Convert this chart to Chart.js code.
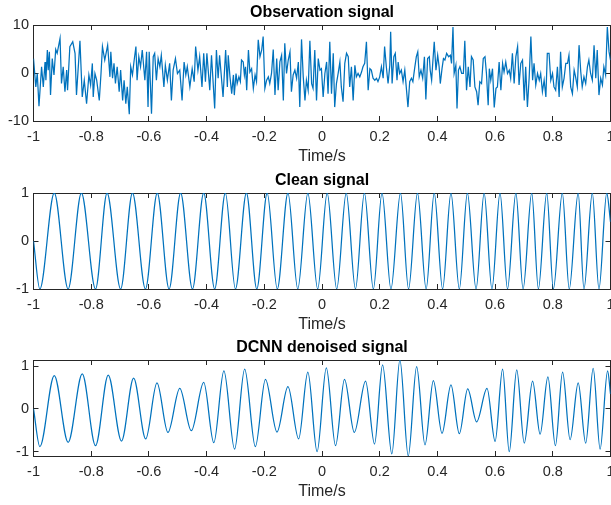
<!DOCTYPE html>
<html>
<head>
<meta charset="utf-8">
<script src="https://cdn.jsdelivr.net/npm/chart.js@4.4.0/dist/chart.umd.min.js"></script>
<style>
  html, body { margin: 0; padding: 0; background: #fff; overflow: hidden; width: 611px; height: 505px; }
  canvas { position: absolute; left: 0; }
</style>
</head>
<body>
<canvas id="obs" width="640" height="171" style="top:0px"></canvas>
<canvas id="clean" width="640" height="171" style="top:168px"></canvas>
<canvas id="dcnn" width="640" height="171" style="top:335px"></canvas>
<script>
const timeTicks = [-1, -0.8, -0.6, -0.4, -0.2, 0, 0.2, 0.4, 0.6, 0.8, 1];
const obsTicks = [-10, 0, 10];
const cleanTicks = [-1, 0, 1];
const dcnnTicks = [-1, 0, 1];

// observation signal
const obsTime = [
  -1.000, -0.992, -0.987, -0.981, -0.972, -0.966, -0.960, -0.957, -0.952, -0.949,
  -0.945, -0.941, -0.935, -0.929, -0.923, -0.918, -0.908, -0.903, -0.897, -0.891,
  -0.885, -0.882, -0.874, -0.864, -0.856, -0.851, -0.839, -0.831, -0.824, -0.816,
  -0.808, -0.802, -0.796, -0.793, -0.787, -0.781, -0.772, -0.766, -0.761, -0.753,
  -0.743, -0.735, -0.732, -0.726, -0.721, -0.716, -0.710, -0.703, -0.698, -0.691,
  -0.686, -0.680, -0.675, -0.668, -0.663, -0.657, -0.651, -0.645, -0.641, -0.635,
  -0.629, -0.623, -0.614, -0.608, -0.603, -0.599, -0.591, -0.585, -0.580, -0.574,
  -0.568, -0.562, -0.557, -0.548, -0.543, -0.536, -0.528, -0.522, -0.516, -0.508,
  -0.501, -0.493, -0.485, -0.478, -0.472, -0.467, -0.458, -0.450, -0.443, -0.438,
  -0.430, -0.424, -0.416, -0.410, -0.404, -0.399, -0.389, -0.383, -0.372, -0.366,
  -0.360, -0.355, -0.343,
  -0.334, -0.328, -0.325, -0.319, -0.313, -0.307, -0.304, -0.298, -0.294, -0.288,
  -0.283, -0.279, -0.273, -0.269, -0.265, -0.261, -0.255, -0.250, -0.244, -0.238,
  -0.232, -0.227, -0.221, -0.215, -0.209, -0.204, -0.198, -0.192, -0.186, -0.181,
  -0.175, -0.169, -0.163, -0.157, -0.152, -0.146, -0.140, -0.134, -0.129, -0.123,
  -0.117, -0.111, -0.106, -0.100, -0.094, -0.088, -0.082, -0.077, -0.071, -0.065,
  -0.059, -0.054, -0.048, -0.042, -0.036, -0.031, -0.025, -0.019, -0.013, -0.007,
  -0.002, 0.004, 0.010, 0.016, 0.021, 0.027, 0.033, 0.039, 0.044, 0.050,
  0.056, 0.062, 0.067, 0.073, 0.079, 0.085, 0.091, 0.096, 0.102, 0.108,
  0.114, 0.119, 0.125, 0.131, 0.137, 0.142, 0.148, 0.154, 0.160, 0.166,
  0.171, 0.177, 0.183, 0.189, 0.194, 0.200, 0.206, 0.212, 0.217, 0.223,
  0.229, 0.235, 0.238, 0.243, 0.249, 0.254, 0.260, 0.264, 0.269, 0.275,
  0.281, 0.287, 0.292, 0.298, 0.304, 0.310, 0.315, 0.321, 0.327,
  0.332, 0.337, 0.343, 0.349, 0.355, 0.360, 0.366, 0.372, 0.375, 0.380,
  0.383, 0.389, 0.395, 0.401, 0.406, 0.410, 0.416, 0.421, 0.426, 0.432,
  0.439, 0.445, 0.449, 0.454, 0.458, 0.464, 0.468, 0.473, 0.478, 0.484,
  0.490, 0.495, 0.501, 0.507, 0.513, 0.518, 0.524, 0.530, 0.536, 0.541,
  0.547, 0.553, 0.559, 0.565, 0.570, 0.576, 0.580, 0.585, 0.591, 0.597,
  0.603, 0.608, 0.614, 0.620, 0.626, 0.631, 0.637, 0.643, 0.649, 0.654,
  0.660, 0.666, 0.672, 0.678, 0.683, 0.689, 0.695, 0.701, 0.706, 0.712,
  0.718, 0.724, 0.730, 0.735, 0.741, 0.747, 0.753, 0.758, 0.764, 0.770,
  0.776, 0.781, 0.787, 0.793, 0.799, 0.804, 0.810, 0.816, 0.822, 0.827,
  0.833, 0.839, 0.845, 0.851, 0.856, 0.862, 0.868, 0.874, 0.879, 0.885,
  0.891, 0.897, 0.902, 0.908, 0.914, 0.920, 0.925, 0.931, 0.937, 0.943,
  0.949, 0.954, 0.960, 0.966, 0.972, 0.977, 0.983, 0.989, 0.995, 1.000
];
const obsValue = [
  3.0, -2.9, -0.1, -6.9, 1.3, -2.9, 2.3, -1.5, 4.8, 0.6,
  4.4, -4.6, 3.0, -0.4, 4.9, 4.1, 7.2, -2.2, 1.3, -3.9,
  0.6, -3.6, 5.5, 6.5, 4.1, -4.6, 6.7, -5.0, -1.5, -6.4,
  -0.4, -2.5, 2.0, -5.0, -0.1, -1.5, -5.7, -0.1, 5.5, 2.7,
  5.8, -0.8, 4.4, -1.1, 2.0, -2.2, 1.3, -3.9, 0.6, -5.7,
  -1.5, -6.4, -2.9, -8.6, 1.3, -0.4, 2.7, 5.5, -1.5, 3.4,
  1.3, 4.8, -1.5, 4.4, -7.1, 4.4, -8.5, 3.4, 4.1, -1.5,
  3.0, 1.3, 3.7, -2.9, 1.6, -1.5, 2.0, -5.7, 0.6, 3.0,
  -0.1, 0.6, -5.7, 2.3, -0.4, 1.3, -2.9, 0.9, -1.8, 5.5,
  0.6, 3.4, -2.9, 4.1, -1.8, 4.1, -3.6, 3.7, -7.4, 4.8,
  -1.1, 3.7, -5.0,
  4.8, -2.9, 3.7, -0.8, -4.3, -0.4, -4.6, -0.1, -2.2, -0.8,
  -1.8, 2.7, 2.3, -0.4, 1.3, -3.6, 4.8, 0.2, 0.9, -3.2,
  -0.4, -1.8, 6.9, 3.4, 4.8, 7.6, -3.2, -1.5, -0.8, -2.2,
  -0.1, 4.9, -4.6, 3.0, -3.6, 2.3, 3.7, -5.7, 6.2, -0.1,
  2.7, 4.4, -3.9, -0.4, 0.6, -1.1, 2.3, -7.1, 7.0, -0.8,
  -5.7, -1.5, -3.6, 6.7, -2.2, -3.2, 4.8, -5.7, 3.0, 0.6,
  0.9, -5.0, -0.1, 2.3, -4.3, 6.5, -4.3, 4.1, -7.1, -2.2,
  -0.1, 2.3, -2.9, -6.0, 2.0, 4.1, 3.4, -2.9, 1.3, -5.7,
  1.6, -0.8, -0.1, -0.8, 0.2, 1.3, 2.0, 6.5, -3.6, 0.9,
  0.6, -1.1, -1.5, -1.1, -1.8, -0.8, 1.3, -1.1, 5.5, 1.3,
  -2.2, 1.6, 8.6, -2.2, 3.4, 4.1, -1.5, 2.3, -0.1, 0.6,
  -1.8, 0.6, -2.9, -7.1, -1.8, -1.1, -1.8, 0.9, 3.4,
  4.4, -0.8, 0.6, -1.1, 3.4, -5.5, 3.0, 3.4, 0.6, -1.5,
  1.3, 6.5, 0.6, 3.7, 1.3, -2.2, 0.9, 3.0, 2.7, 4.1,
  3.4, 3.7, 2.0, 9.6, -0.1, 1.6, -7.4, 0.6, 1.3, -0.1,
  -0.1, 6.7, -3.6, 1.3, -2.9, 3.4, 2.7, -2.9, -3.9, -6.7,
  -1.8, -2.2, 3.0, 3.4, -0.1, -6.7, 0.9, -1.5, 0.9, -7.2,
  -3.2, -2.9, 2.3, -3.6, 2.0, 0.2, 2.3, -0.1, 0.6, -1.1,
  4.1, -2.2, 3.4, 5.5, -2.5, 2.0, 2.7, -5.7, 1.3, -7.1,
  -1.1, 7.6, -1.5, 2.0, -2.5, -0.1, -1.5, -0.1, -3.9, -1.5,
  -5.0, 4.1, 4.1, -1.5, -0.1, -2.9, -3.6, 1.3, -5.0, 4.4,
  -2.9, -1.1, 2.0, 2.0, 3.7, -2.9, -4.3, 0.6, -0.8, -2.9,
  5.8, 0.2, -2.9, -0.8, -2.2, 1.3, 2.7, -0.1, -1.5, 5.8,
  -1.1, 4.8, -4.6, -1.1, -2.5, 1.3, -0.4, 9.6, 4.4, 2.7
];

// clean signal: start, then alternating troughs and crests, then end value
const cleanTime = [
  -1, -0.978, -0.928, -0.880, -0.834, -0.785, -0.745, -0.698, -0.657, -0.612,
  -0.571, -0.530, -0.490, -0.449, -0.410, -0.372, -0.335, -0.300, -0.262, -0.226,
  -0.190, -0.155, -0.118, -0.084, -0.049, -0.015, 0.018, 0.051, 0.084, 0.116,
  0.147, 0.178, 0.208, 0.239, 0.272, 0.300, 0.331, 0.361, 0.389, 0.418,
  0.447, 0.476, 0.504, 0.534, 0.562, 0.589, 0.617, 0.643, 0.672, 0.697,
  0.727, 0.750, 0.779, 0.802, 0.833, 0.857, 0.888, 0.908, 0.937, 0.960,
  0.987, 1
];
const cleanValue = [
  0, -1, 1, -1, 1, -1, 1, -1, 1, -1,
  1, -1, 1, -1, 1, -1, 1, -1, 1, -1,
  1, -1, 1, -1, 1, -1, 1, -1, 1, -1,
  1, -1, 1, -1, 1, -1, 1, -1, 1, -1,
  1, -1, 1, -1, 1, -1, 1, -1, 1, -1,
  1, -1, 1, -1, 1, -1, 1, -1, 1, -1,
  1, 0.4
];

// DCNN output: start, alternating troughs and crests, end value
const dcnnTime = [
  -1, -0.978, -0.928, -0.880, -0.831, -0.785, -0.741, -0.695, -0.653, -0.611,
  -0.572, -0.534, -0.493, -0.453, -0.410, -0.375, -0.340, -0.303, -0.268, -0.231,
  -0.196, -0.156, -0.118, -0.081, -0.049, -0.017, 0.015, 0.047, 0.078, 0.112,
  0.151, 0.182, 0.210, 0.242, 0.270, 0.299, 0.328, 0.357, 0.386, 0.416,
  0.447, 0.476, 0.505, 0.536, 0.572, 0.600, 0.626, 0.649, 0.675, 0.701,
  0.730, 0.756, 0.783, 0.809, 0.834, 0.860, 0.888, 0.914, 0.940, 0.964,
  0.990, 1
];
const dcnnValue = [
  0, -0.88, 0.78, -0.78, 0.82, -0.86, 0.79, -0.75, 0.72, -0.70,
  0.61, -0.55, 0.48, -0.51, 0.62, -0.79, 0.89, -0.94, 0.93, -0.88,
  0.69, -0.54, 0.52, -0.70, 0.86, -1.0, 0.96, -0.86, 0.69, -0.55,
  0.65, -0.82, 1.03, -1.05, 1.143, -1.10, 0.99, -0.84, 0.66, -0.57,
  0.56, -0.58, 0.47, -0.30, 0.48, -0.76, 0.93, -1.0, 0.91, -0.80,
  0.65, -0.59, 0.75, -0.86, 0.86, -0.72, 0.61, -0.80, 0.95, -0.94,
  0.89, 0.35
];

const lineColour = '#0072BD';
const axisColour = '#262626';

Chart.defaults.font.family = '"Liberation Sans", Arial, Helvetica, sans-serif';
Chart.defaults.color = axisColour;

// matlab style inward tick marks, no grid
function tickGrid() {
  return { display: true, drawOnChartArea: false, drawTicks: true, tickLength: -5, color: axisColour, lineWidth: 1 };
}
function setTicks(values) {
  return (scale) => { scale.ticks = values.map(v => ({ value: v })); };
}

function createSignalPlot(id, title, time, values, yTicks, yMin, yMax, smooth) {
  const points = time.map((t, i) => ({ x: t, y: values[i] }));
  const border = { display: true, color: axisColour, width: 1 };

  new Chart(document.getElementById(id), {
    type: 'line',
    data: {
      datasets: [{
        data: points,
        borderColor: lineColour,
        borderWidth: 1.25,
        pointRadius: 0,
        tension: 0,
        cubicInterpolationMode: smooth ? 'monotone' : 'default',
      }],
    },
    options: {
      responsive: false,
      animation: false,
      devicePixelRatio: 1,
      layout: { padding: { left: 0, right: 29.5, top: 0, bottom: 0 } },
      plugins: {
        legend: { display: false },
        tooltip: { enabled: false },
        title: {
          display: true,
          text: title,
          fullSize: false,
          color: '#000',
          font: { size: 16, weight: 'bold', lineHeight: 1.2 },
          padding: { top: 3.4, bottom: 2.4 },
        },
      },
      scales: {
        x: {
          type: 'linear', position: 'bottom', min: -1, max: 1,
          afterBuildTicks: setTicks(timeTicks),
          afterFit: (s) => { s.height = 50; },
          ticks: { autoSkip: false, maxRotation: 0, padding: 11.8, font: { size: 14.5 }, callback: (v) => String(v) },
          grid: tickGrid(),
          border,
          title: { display: true, text: 'Time/s', font: { size: 16 }, padding: { top: 0, bottom: 4.4 } },
        },
        x2: {
          type: 'linear', position: 'top', min: -1, max: 1,
          afterBuildTicks: setTicks(timeTicks),
          afterFit: (s) => { s.height = 0; },
          ticks: { display: false },
          grid: tickGrid(),
          border,
        },
        y: {
          type: 'linear', position: 'left', min: yMin, max: yMax,
          afterBuildTicks: setTicks(yTicks),
          afterFit: (s) => { s.width = 33.5; },
          ticks: { padding: 9.5, font: { size: 14.5 }, callback: (v) => String(v) },
          grid: tickGrid(),
          border,
        },
        y2: {
          type: 'linear', position: 'right', min: yMin, max: yMax,
          afterBuildTicks: setTicks(yTicks),
          afterFit: (s) => { s.width = 0; },
          ticks: { display: false },
          grid: tickGrid(),
          border,
        },
      },
    },
  });
}

createSignalPlot('obs', 'Observation signal', obsTime, obsValue, obsTicks, -10, 10, false);
createSignalPlot('clean', 'Clean signal', cleanTime, cleanValue, cleanTicks, -1, 1, true);
createSignalPlot('dcnn', 'DCNN denoised signal', dcnnTime, dcnnValue, dcnnTicks, -1.1, 1.143, true);
</script>
</body>
</html>
